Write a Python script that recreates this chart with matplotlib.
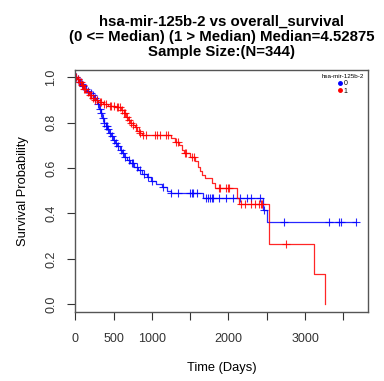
import matplotlib

matplotlib.use('Agg')
import matplotlib.pyplot as plt
import numpy as np
from matplotlib.lines import Line2D

plt.rcParams['font.family'] = ['Liberation Sans', 'DejaVu Sans']

# group 0 (<= median): event times and survival after each step
blue_t = [0, 20, 45, 70, 95, 120, 150, 180, 210, 245, 275, 295, 310, 330, 350, 370, 395, 420,
          445, 470, 495, 520, 550, 580, 610, 640, 680, 720, 770, 820, 870, 930, 990, 1060,
          1130, 1200, 1250, 1670, 2455, 2500, 3670]
blue_s = [1.0, 0.99, 0.98, 0.97, 0.96, 0.95, 0.94, 0.93, 0.92, 0.91, 0.90, 0.88, 0.86, 0.84,
          0.82, 0.80, 0.785, 0.77, 0.755, 0.74, 0.725, 0.71, 0.695, 0.68, 0.665, 0.65, 0.635,
          0.62, 0.605, 0.59, 0.575, 0.56, 0.545, 0.53, 0.515, 0.50, 0.49, 0.466, 0.414, 0.363,
          0.363]
blue_cens = [10, 30, 60, 85, 105, 135, 165, 200, 230, 260, 285, 300, 320, 340, 360, 380, 400,
             410, 430, 460, 480, 500, 530, 560, 600, 620, 650, 700, 740, 760, 800, 850, 900,
             950, 1000, 1150, 1250, 1340, 1500, 1520, 1540, 1590, 1710, 1730, 1760, 1780, 1800,
             1870, 1970, 2060, 2150, 2240, 2300, 2410, 2470, 2730, 3310, 3440, 3470, 3670]

# group 1 (> median)
red_t = [0, 25, 50, 80, 110, 140, 175, 210, 250, 300, 360, 430, 520, 600, 630, 660, 690, 720,
         750, 780, 810, 840, 870, 1250, 1300, 1350, 1390, 1420, 1500, 1560, 1600, 1625, 1660,
         1690, 1790, 1830, 2110, 2140, 2530, 3120, 3255]
red_s = [1.0, 0.99, 0.98, 0.965, 0.95, 0.935, 0.92, 0.91, 0.90, 0.89, 0.88, 0.875, 0.87,
         0.855, 0.84, 0.825, 0.81, 0.80, 0.79, 0.78, 0.765, 0.755, 0.745, 0.73, 0.715, 0.70,
         0.68, 0.665, 0.65, 0.63, 0.605, 0.585, 0.57, 0.555, 0.532, 0.51, 0.466, 0.441, 0.265,
         0.133, 0.0]
red_cens = [15, 35, 55, 70, 90, 100, 120, 130, 160, 190, 200, 230, 260, 280, 320, 340, 380, 400,
            450, 470, 500, 540, 560, 580, 610, 640, 650, 680, 700, 730, 760, 790, 830, 850, 890,
            920, 1040, 1070, 1100, 1180, 1210, 1310, 1340, 1430, 1450, 1520, 1550, 1870, 1890,
            1970, 1990, 2010, 2170, 2210, 2300, 2340, 2400, 2420, 2440, 2750]

groups = ['0', '1']
colors = ['#0000ff', '#ff0000']
xticks = [0, 500, 1000, 1500, 2000, 2500, 3000, 3500]
xticklabels = ['0', '500', '1000', '', '2000', '', '3000', '']
yticks = [0.0, 0.2, 0.4, 0.6, 0.8, 1.0]


def surv_at(times, surv, t):
    """step lookup of the KM curve at a censor time"""
    idx = np.searchsorted(times, t, side='right') - 1
    return np.asarray(surv)[idx]


fig = plt.figure(figsize=(3.84, 3.81), dpi=100)
ax = fig.add_axes([0.196, 0.181, 0.762, 0.635])

for t, s, c, col in [(blue_t, blue_s, blue_cens, colors[0]), (red_t, red_s, red_cens, colors[1])]:
    ax.step(t, s, where='post', color=col, lw=0.9, alpha=0.85)
    ax.plot(c, surv_at(t, s, c), ls='none', marker='+', ms=6, mew=0.8, color=col, alpha=0.85)

ax.set_xlim(0, 3820)
ax.set_ylim(-0.034, 1.031)
ax.set_xticks(xticks)
ax.set_xticklabels(xticklabels)
ax.set_yticks(yticks)
ax.set_yticklabels(['%.1f' % v for v in yticks], rotation=90, va='center')
ax.tick_params(direction='out', length=6, width=0.8, labelsize=9, colors='#333333', pad=9)
ax.tick_params(axis='y', pad=7)
for sp in ax.spines.values():
    sp.set_color('#555555')
    sp.set_linewidth(1.0)

ax.set_xlabel('Time (Days)', fontsize=9.3, labelpad=12)
ax.set_ylabel('Survival Probability', fontsize=9.3, labelpad=12)
ax.set_title('hsa-mir-125b-2 vs overall_survival\n(0 <= Median) (1 > Median) Median=4.52875\n'
             'Sample Size:(N=344)', fontsize=10.8, fontweight='bold', linespacing=1.12, pad=10)

handles = [Line2D([], [], ls='none', marker='o', ms=2.5, color=col) for col in colors]
leg = ax.legend(handles, groups, title='hsa-mir-125b-2', loc='upper right', frameon=False,
                fontsize=5, title_fontsize=4.5, handlelength=0.6, handletextpad=0.3,
                labelspacing=0.1, borderaxespad=0.2)

fig.savefig('out.png', dpi=100)
